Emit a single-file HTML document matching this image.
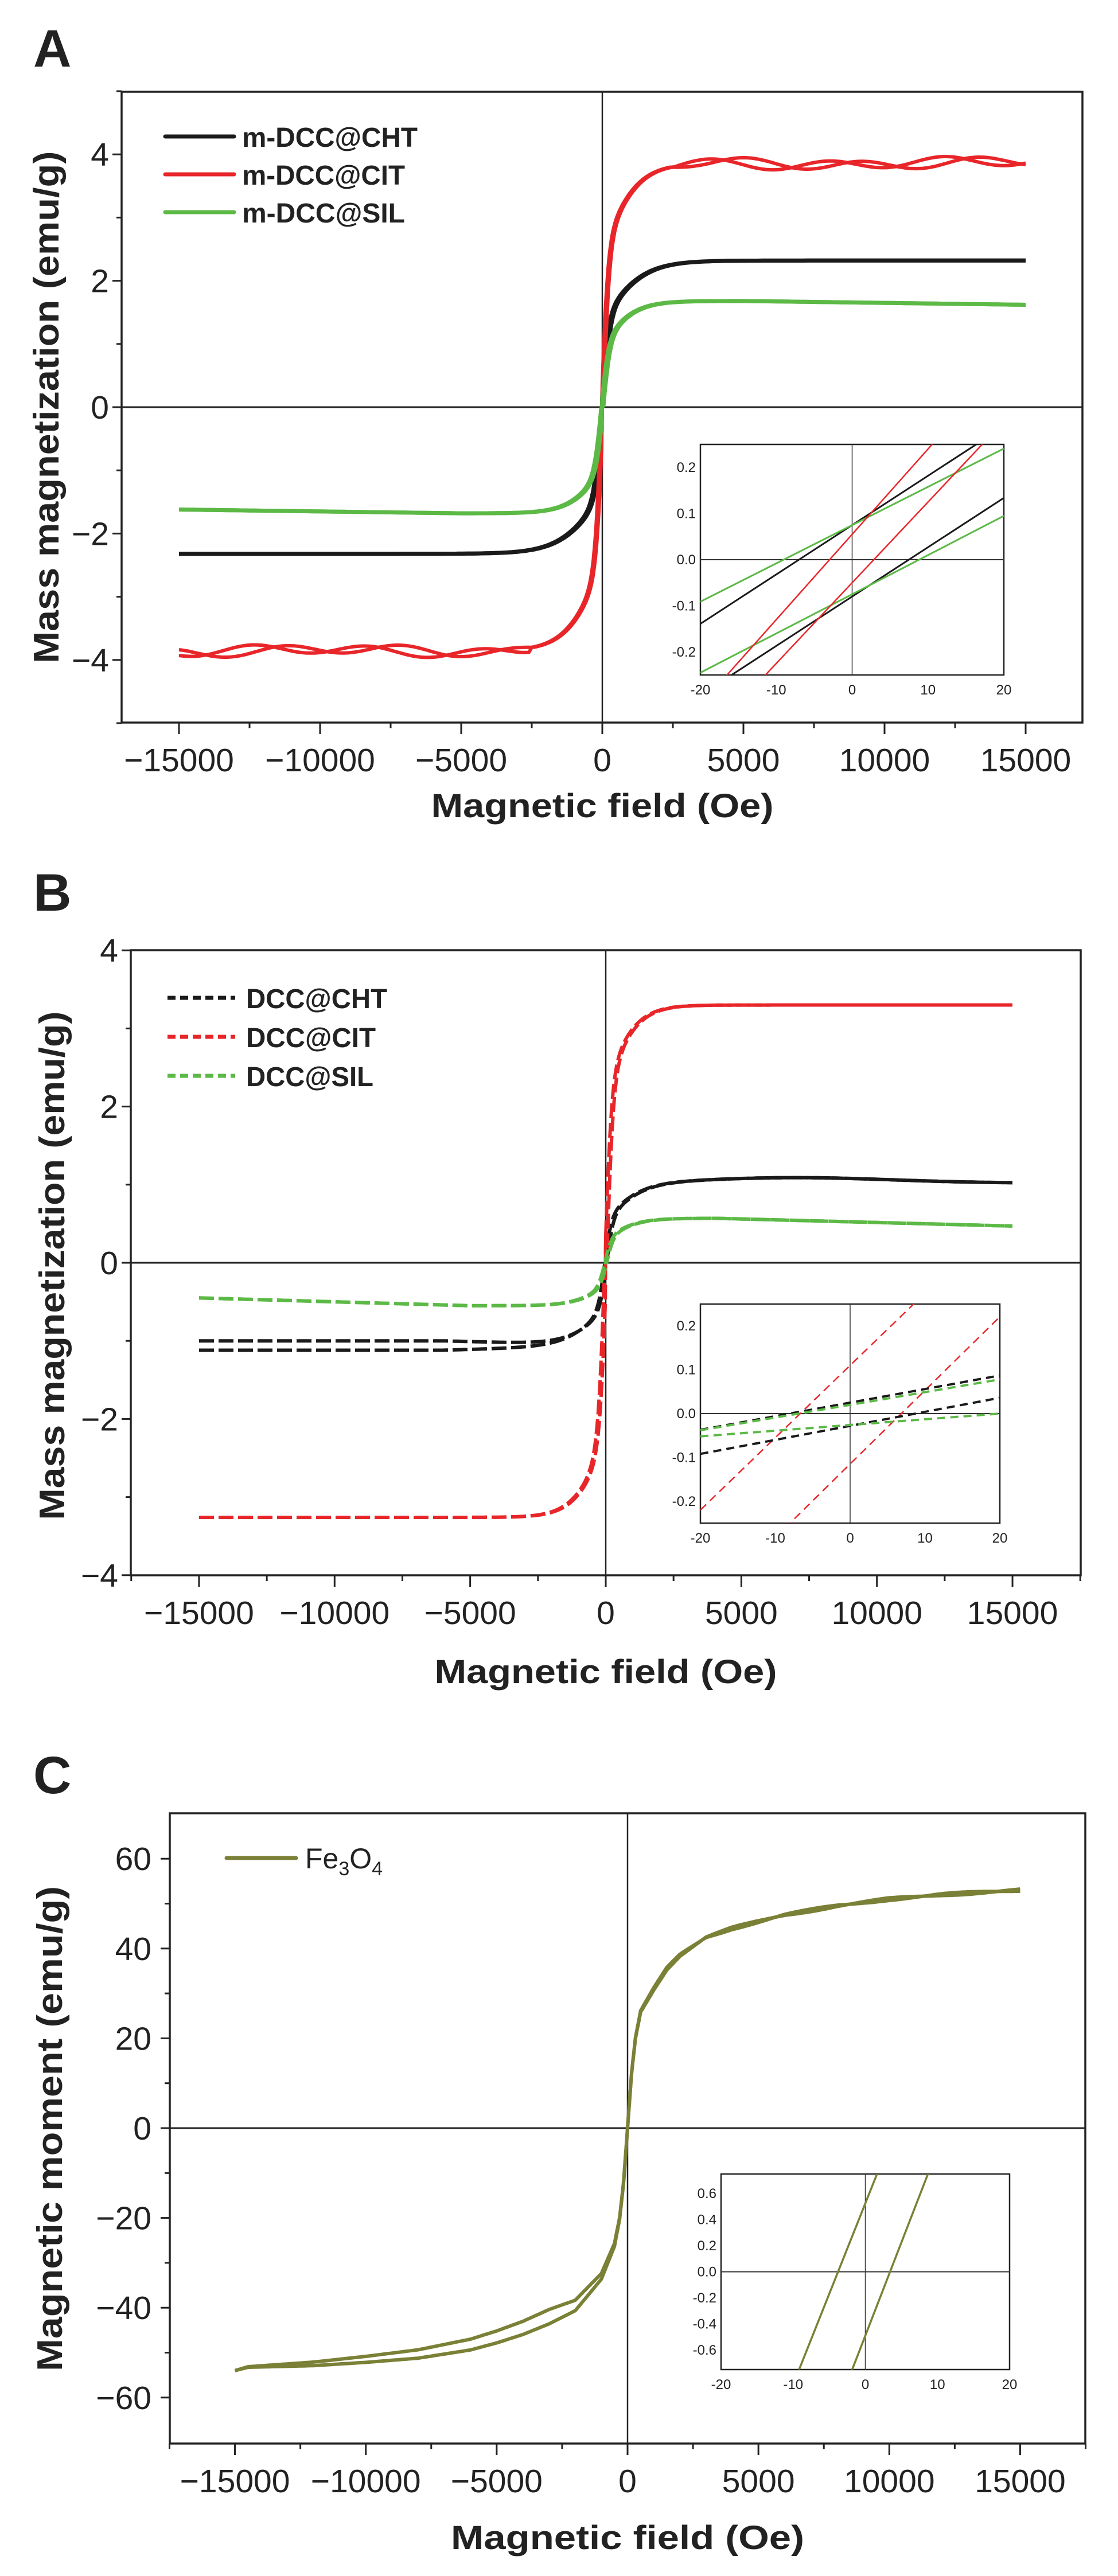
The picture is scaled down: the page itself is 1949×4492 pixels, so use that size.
<!DOCTYPE html>
<html><head><meta charset="utf-8">
<style>
html,body{margin:0;padding:0;background:#fff;width:1949px;height:4492px;overflow:hidden;}
svg{display:block;}
text{font-family:"Liberation Sans",Arial,sans-serif;fill:#222;}
.b{font-weight:bold;}
</style></head>
<body>
<svg id="s" xmlns="http://www.w3.org/2000/svg" width="1949" height="4492" viewBox="0 0 1949 4492">
<rect width="1949" height="4492" fill="#fff"/>
<defs>
<clipPath id="ciA"><rect x="1221" y="775" width="529" height="402"/></clipPath>
<clipPath id="ciB"><rect x="1221" y="2274" width="522" height="382"/></clipPath>
<clipPath id="ciC"><rect x="1257" y="3791" width="503" height="341"/></clipPath>
</defs>
<text class="b" x="58" y="116" font-size="92">A</text>
<text class="b" x="58" y="1588" font-size="92">B</text>
<text class="b" x="58" y="3127" font-size="92">C</text>
<text class="b" x="1050" y="1425" font-size="58" text-anchor="middle" textLength="597" lengthAdjust="spacingAndGlyphs">Magnetic field (Oe)</text>
<text class="b" x="1056" y="2935" font-size="58" text-anchor="middle" textLength="597" lengthAdjust="spacingAndGlyphs">Magnetic field (Oe)</text>
<text class="b" x="1094" y="4445" font-size="58" text-anchor="middle" textLength="616" lengthAdjust="spacingAndGlyphs">Magnetic field (Oe)</text>
<text class="b" font-size="62" text-anchor="middle" transform="translate(102,710) rotate(-90)" textLength="893" lengthAdjust="spacingAndGlyphs">Mass magnetization (emu/g)</text>
<text class="b" font-size="62" text-anchor="middle" transform="translate(112,2207) rotate(-90)" textLength="887" lengthAdjust="spacingAndGlyphs">Mass magnetization (emu/g)</text>
<text class="b" font-size="62" text-anchor="middle" transform="translate(108,3712) rotate(-90)" textLength="846" lengthAdjust="spacingAndGlyphs">Magnetic moment (emu/g)</text>
<g stroke-width="7" stroke-linecap="round">
<line x1="288" y1="238" x2="408" y2="238" stroke="#1a1a1a"/>
<line x1="288" y1="304" x2="408" y2="304" stroke="#e8262a"/>
<line x1="288" y1="370" x2="408" y2="370" stroke="#5cb946"/>
<line x1="292" y1="1740" x2="410" y2="1740" stroke="#1a1a1a" stroke-dasharray="14 8" stroke-linecap="butt"/>
<line x1="292" y1="1808" x2="410" y2="1808" stroke="#e8262a" stroke-dasharray="14 8" stroke-linecap="butt"/>
<line x1="292" y1="1876" x2="410" y2="1876" stroke="#5cb946" stroke-dasharray="14 8" stroke-linecap="butt"/>
<line x1="395" y1="3240" x2="516" y2="3240" stroke="#7a8035"/>
</g>
<text class="b" x="422" y="256" font-size="48" textLength="306" lengthAdjust="spacingAndGlyphs">m-DCC@CHT</text>
<text class="b" x="422" y="322" font-size="48" textLength="284" lengthAdjust="spacingAndGlyphs">m-DCC@CIT</text>
<text class="b" x="422" y="388" font-size="48" textLength="284" lengthAdjust="spacingAndGlyphs">m-DCC@SIL</text>
<text class="b" x="429" y="1758" font-size="48" textLength="246" lengthAdjust="spacingAndGlyphs">DCC@CHT</text>
<text class="b" x="429" y="1826" font-size="48" textLength="226" lengthAdjust="spacingAndGlyphs">DCC@CIT</text>
<text class="b" x="429" y="1894" font-size="48" textLength="222" lengthAdjust="spacingAndGlyphs">DCC@SIL</text>
<text x="532" y="3258" font-size="50">Fe<tspan font-size="34" dy="12">3</tspan><tspan dy="-12">O</tspan><tspan font-size="34" dy="12">4</tspan></text>
<g id="dyn"></g>
</svg>
<script>
(function(){
var NS="http://www.w3.org/2000/svg", g=document.getElementById("dyn");
function el(t,a,p){var e=document.createElementNS(NS,t);for(var k in a)e.setAttribute(k,a[k]);(p||g).appendChild(e);return e;}
function txt(x,y,s,fs,anc,p){var e=el("text",{x:x,y:y,"font-size":fs,"text-anchor":anc||"middle"},p);e.textContent=s;return e;}
function axes(P){
 el("rect",{x:P.L,y:P.T,width:P.R-P.L,height:P.B-P.T,fill:"none",stroke:"#222","stroke-width":3.5});
 var X=function(h){return P.x0+h*P.kx;}, Y=function(m){return P.y0-m*P.ky;};
 el("line",{x1:P.L,y1:P.y0,x2:P.R,y2:P.y0,stroke:"#222","stroke-width":3});
 el("line",{x1:P.x0,y1:P.T,x2:P.x0,y2:P.B,stroke:"#222","stroke-width":2.5});
 for(var h=-17500;h<=17500;h+=2500){var x=X(h);if(x<P.L-1||x>P.R+1)continue;var maj=(h%5000===0);
  el("line",{x1:x,y1:P.B,x2:x,y2:P.B+(maj?20:10),stroke:"#222","stroke-width":3});
  if(maj){var s=h<0?"\u2212"+(-h):""+h;txt(x,P.B+85,s,57);}}
 for(var m=P.ymin;m<=P.ymax+1e-9;m+=P.ystep/2){var y=Y(m);var maj=Math.abs(Math.round(m/P.ystep)*P.ystep-m)<1e-6;
  el("line",{x1:P.L,y1:y,x2:P.L-(maj?16:9),y2:y,stroke:"#222","stroke-width":3});
  if(maj){var v=Math.round(m);txt(P.L-22,y+20,v<0?"\u2212"+(-v):""+v,57,"end");}}
 return {X:X,Y:Y};
}
function path(pts,col,w,dash,p){var d="";pts.forEach(function(q,i){d+=(i?"L":"M")+q[0].toFixed(1)+" "+q[1].toFixed(1);});
 var a={d:d,fill:"none",stroke:col,"stroke-width":w,"stroke-linejoin":"round"};if(dash)a["stroke-dasharray"]=dash;return el("path",a,p);}
function Hs(){var a=[];for(var h=-15000;h<=15000;h+=(Math.abs(h)<1500?20:100))a.push(h);return a;}
function shp(x,a,h1,h2){return a*Math.tanh(x/h1)+(1-a)*Math.tanh(x/h2);}
function series(A,fn,col,w,dash){[0,1].forEach(function(br){var pts=Hs().map(function(h){return [A.X(h),A.Y(fn(h,br))];});path(pts,col,w,dash);});}
var PA={L:212,R:1887,T:160,B:1260,x0:1050,kx:0.0492,y0:710,ky:110.2,ymin:-5,ymax:5,ystep:2};
var A=axes(PA);
series(A,function(h,b){var x=Math.abs(h+(b?35:-35)),s=h<0?-1:1;return s*2.32*shp(x,0.6,250,1500);},"#1a1a1a",7);
series(A,function(h,b){var x=Math.abs(h+(b?35:-35)),s=h<0?-1:1;var w=x>2500?0.07*Math.sin(h/650+(b?1.8:0))+0.04*Math.sin(h/1900+b):0;return s*(3.86*shp(x,0.65,230,1300))+w;},"#e8262a",6);
series(A,function(h,b){var x=Math.abs(h+(b?35:-35)),s=h<0?-1:1;var ms=1.68-Math.max(0,(x-5000)/10000)*0.06;return s*ms*shp(x,0.6,250,1200);},"#5cb946",7);
var PB={L:228,R:1884,T:1657,B:2747,x0:1056,kx:0.04727,y0:2202,ky:136.2,ymin:-4,ymax:4,ystep:2};
var B=axes(PB);
series(B,function(h,b){var x=Math.abs(h+(b?35:-35)),s=h<0?-1:1;var ms;if(h>0)ms=1.02+0.07*Math.exp(-Math.pow((x-7000)/5000,2));else ms=1.06+(b?0.06:-0.06)*Math.min(1,x/6000);return s*ms*shp(x,0.55,250,1400);},"#1a1a1a",6,"26 8");
series(B,function(h,b){var x=Math.abs(h+(b?35:-35)),s=h<0?-1:1;var ms=h>0?3.3:3.26;return s*ms*shp(x,0.7,250,1200);},"#e8262a",6,"26 8");
series(B,function(h,b){var x=Math.abs(h+(b?35:-35)),s=h<0?-1:1;var ms=h>0?0.57-0.1*Math.max(0,(x-4000)/11000):0.55-0.1*Math.max(0,(x-5000)/10000);return s*ms*shp(x,0.55,250,1200);},"#5cb946",6,"26 8");
var PC={L:296,R:1892,T:3162,B:4261,x0:1094,kx:0.04563,y0:3711,ky:7.83};
(function(){var P=PC;
 el("rect",{x:P.L,y:P.T,width:P.R-P.L,height:P.B-P.T,fill:"none",stroke:"#222","stroke-width":3.5});
 el("line",{x1:P.L,y1:P.y0,x2:P.R,y2:P.y0,stroke:"#222","stroke-width":3});
 el("line",{x1:P.x0,y1:P.T,x2:P.x0,y2:P.B,stroke:"#222","stroke-width":2.5});
 for(var h=-17500;h<=17500;h+=2500){var x=P.x0+h*P.kx;if(x<P.L-1||x>P.R+1)continue;var maj=(h%5000===0);
  el("line",{x1:x,y1:P.B,x2:x,y2:P.B+(maj?20:10),stroke:"#222","stroke-width":3});
  if(maj)txt(x,P.B+85,h<0?"\u2212"+(-h):""+h,57);}
 for(var m=-60;m<=60;m+=10){var y=P.y0-m*P.ky;var maj=(m%20===0);
  el("line",{x1:P.L,y1:y,x2:P.L-(maj?16:9),y2:y,stroke:"#222","stroke-width":3});
  if(maj)txt(P.L-32,y+20,m<0?"\u2212"+(-m):""+m,57,"end");}
})();
var tC=[[0,0],[150,12],[300,20],[500,26],[1000,31],[1500,35.5],[2000,38.5],[3000,42.5],[4000,44.5],[5000,46],[6000,47.5],[8000,49.5],[10000,51],[12000,52],[15000,53]];
var tCn=[[0,0],[150,-12],[300,-20],[500,-26],[1000,-33],[2000,-39.5],[3000,-42],[4000,-44.5],[5000,-46.5],[6000,-48.2],[8000,-50.3],[10000,-51.5],[12000,-52.5],[14500,-53.2],[15000,-54]];
function interp(t,x){for(var i=1;i<t.length;i++){if(x<=t[i][0]){var f=(x-t[i-1][0])/(t[i][0]-t[i-1][0]);return t[i-1][1]+f*(t[i][1]-t[i-1][1]);}}return t[t.length-1][1];}
[0,1].forEach(function(b){var pts=Hs().map(function(h){var x=Math.abs(h);var v=h>=0?interp(tC,x):interp(tCn,x);
  var off=(b?1:-1)*(h<0?Math.min(1.2,x/2500)*Math.max(0,1-(x-6000)/9000):0.3*Math.sin(x/900));
  return [PC.x0+h*PC.kx,PC.y0-(v+off)*PC.ky];});path(pts,"#7a8035",6);});
function inset(I){
 el("rect",{x:I.L,y:I.T,width:I.R-I.L,height:I.B-I.T,fill:"#fff",stroke:"#222","stroke-width":2.5});
 var X=function(h){return I.L+(h+20)/40*(I.R-I.L);},Y=function(m){return I.T+(I.ymax-m)/(2*I.ymax)*(I.B-I.T);};
 el("line",{x1:I.L,y1:Y(0),x2:I.R,y2:Y(0),stroke:"#333","stroke-width":2});
 el("line",{x1:X(0),y1:I.T,x2:X(0),y2:I.B,stroke:"#333","stroke-width":1.5});
 [-20,-10,0,10,20].forEach(function(v){txt(X(v),I.B+34,""+v,24);});
 I.yt.forEach(function(v){txt(I.L-8,Y(v)+8,v.toFixed(1),24,"end");});
 var grp=el("g",{"clip-path":"url(#"+I.clip+")"});
 I.lines.forEach(function(l){el("line",{x1:X(-20),y1:Y(l[0]+l[1]*-20),x2:X(20),y2:Y(l[0]+l[1]*20),stroke:l[2],"stroke-width":l[3]||3,"stroke-dasharray":l[4]||"none"},grp);});
}
inset({L:1221,R:1750,T:775,B:1177,ymax:0.25,clip:"ciA",yt:[0.2,0.1,0.0,-0.1,-0.2],lines:[
 [0.075,0.0107,"#1a1a1a"],[-0.08,0.0107,"#1a1a1a"],[0.075,0.0083,"#5cb946"],[-0.075,0.0085,"#5cb946"],
 [0.055,0.0185,"#e8262a",2.5],[-0.05,0.0175,"#e8262a",2.5]]});
inset({L:1221,R:1743,T:2274,B:2656,ymax:0.25,clip:"ciB",yt:[0.2,0.1,0.0,-0.1,-0.2],lines:[
 [0.11,0.0165,"#e8262a",2.5,"14 9"],[-0.115,0.0168,"#e8262a",2.5,"14 9"],
 [0.025,0.0031,"#1a1a1a",4,"14 9"],[-0.028,0.0032,"#1a1a1a",4,"14 9"],
 [0.02,0.0029,"#5cb946",4,"14 9"],[-0.026,0.0013,"#5cb946",4,"14 9"]]});
inset({L:1257,R:1760,T:3791,B:4132,ymax:0.75,clip:"ciC",yt:[0.6,0.4,0.2,0.0,-0.2,-0.4,-0.6],lines:[
 [0.525,0.1389,"#7a8035",3.5],[-0.49,0.1429,"#7a8035",3.5]]});
})();
</script>
</body></html>
